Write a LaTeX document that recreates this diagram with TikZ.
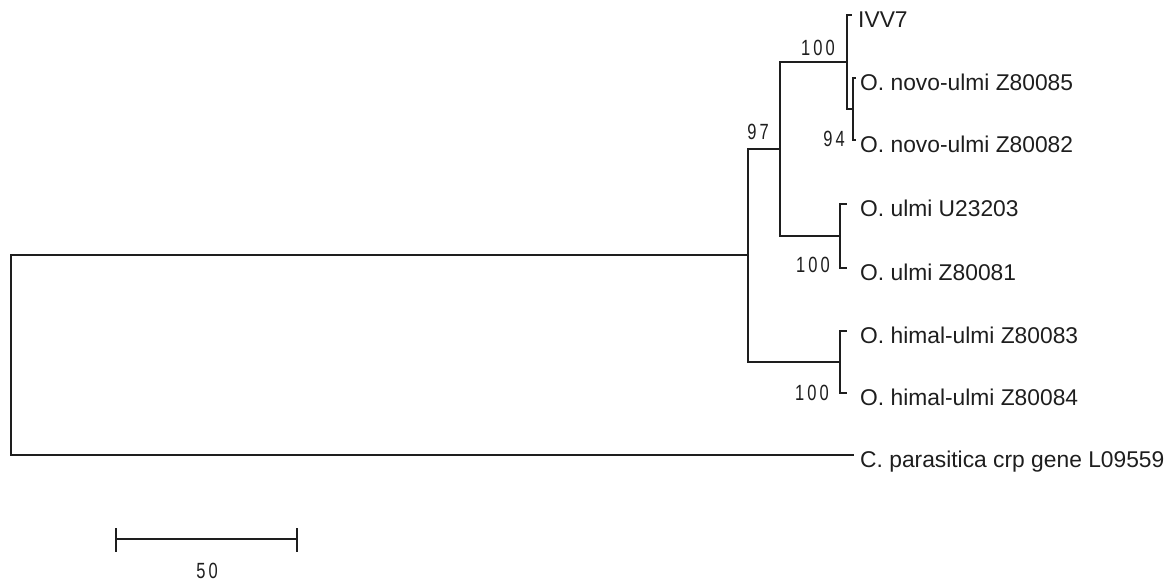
\documentclass[tikz,border=0pt]{standalone}
\usepackage{fontspec}
\setmainfont{Liberation Sans}
\newfontfamily\labfont[FakeStretch=0.75,LetterSpace=14]{Liberation Sans}
\usetikzlibrary{calc}
\definecolor{ink}{HTML}{1E1E1E}
\tikzset{
  branch/.style={draw=ink, line width=2pt, line cap=rect},
  taxon/.style={anchor=base west, inner sep=0pt, text=ink, font=\fontsize{22.8}{27}\selectfont},
  boot/.style={inner sep=0pt, text=ink, font=\labfont\fontsize{22}{26}\selectfont}
}
\begin{document}
\begin{tikzpicture}[x=1pt,y=-1pt]
\useasboundingbox (0,0) rectangle (1167,581);
% internal nodes
\coordinate (root) at (11,355);
\coordinate (nA) at (748,255);
\coordinate (nB) at (780,149);
\coordinate (nC) at (847,62);
\coordinate (n94) at (853,109);
\coordinate (nD) at (840,236);
\coordinate (nE) at (840,362);
% tips
\coordinate (tI) at (851,15);
\coordinate (t85) at (855,78);
\coordinate (t82) at (855,140);
\coordinate (tU) at (846,204);
\coordinate (t81) at (846,268);
\coordinate (t83) at (846,331);
\coordinate (t84) at (846,393);
\coordinate (tC) at (853,455);
% branches
\draw[branch] (root) |- (nA);
\draw[branch] (root) |- (tC);
\draw[branch] (nA) |- (nB);
\draw[branch] (nA) |- (nE);
\draw[branch] (nB) |- (nC);
\draw[branch] (nB) |- (nD);
\draw[branch] (nC) |- (tI);
\draw[branch] (nC) |- (n94);
\draw[branch] (n94) |- (t85);
\draw[branch] (n94) |- (t82);
\draw[branch] (nD) |- (tU);
\draw[branch] (nD) |- (t81);
\draw[branch] (nE) |- (t83);
\draw[branch] (nE) |- (t84);
% taxon labels
\node[taxon] (lI) at (858,27) {IVV7};
\node[taxon] (l85) at (860,90) {O. novo-ulmi Z80085};
\node[taxon] (l82) at (860,152) {O. novo-ulmi Z80082};
\node[taxon] (lU) at (860,216) {O. ulmi U23203};
\node[taxon] (l81) at (860,280) {O. ulmi Z80081};
\node[taxon] (l83) at (860,343) {O. himal-ulmi Z80083};
\node[taxon] (l84) at (860,405) {O. himal-ulmi Z80084};
\node[taxon] (lC) at (860,467) {C. parasitica crp gene L09559};
% bootstrap values
\node[boot] (b100a) at (818,48) {100};
\node[boot] (b97) at (758,132) {97};
\node[boot] (b94) at (834,139) {94};
\node[boot] (b100b) at (813,265) {100};
\node[boot] (b100c) at (812,393) {100};
% scale bar
\coordinate (sbL) at (116,539);
\coordinate (sbR) at (297,539);
\draw[branch, line cap=butt] (sbL) -- (sbR);
\draw[draw=ink, line width=1.3pt] ($(sbL)+(0,-11)$) -- ($(sbL)+(0,13)$);
\draw[draw=ink, line width=1.3pt] ($(sbR)+(0,-11)$) -- ($(sbR)+(0,13)$);
\node[boot] (s50) at (207,571) {50};
\end{tikzpicture}
\end{document}
